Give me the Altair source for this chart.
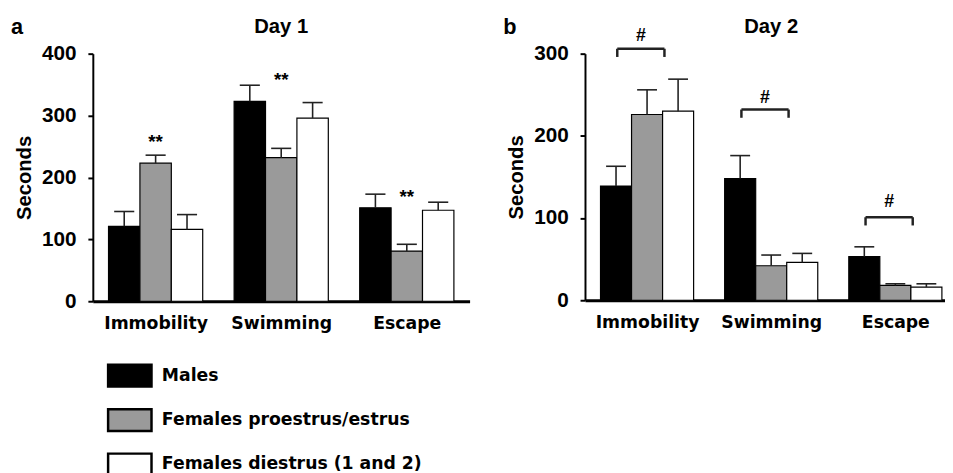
import altair as alt
import pandas as pd

# ---------------- data ----------------
categories = ["Immobility", "Swimming", "Escape"]
groups = ["Males", "Females proestrus/estrus", "Females diestrus (1 and 2)"]
colors = ["#000000", "#9a9a9a", "#ffffff"]

day1_males = [121, 323, 151]
day1_males_sem = [24, 26, 22]
day1_pro = [223, 232, 81]
day1_pro_sem = [13, 15, 11]
day1_di = [116, 296, 147]
day1_di_sem = [24, 25, 13]

day2_males = [139, 148, 53]
day2_males_sem = [24, 28, 12]
day2_pro = [226, 42, 18]
day2_pro_sem = [30, 13, 2]
day2_di = [230, 46, 16]
day2_di_sem = [39, 11, 4]

day1_star_level = [248, 348, 158]      # "**" annotations (Day 1)
day2_hash_level = [315, 240, 114]      # "#" annotations (Day 2)
day2_bracket_level = [306, 232, 101]   # brackets under "#"

FONT = "Liberation Sans"
WIDE = "DejaVu Sans"


def frame(means, sems):
    rows = []
    for gi, (g, m, s) in enumerate(zip(groups, means, sems)):
        for ci, c in enumerate(categories):
            rows.append(dict(category=c, ci=ci, group=g, gi=gi, mean=m[ci], sem=s[ci]))
    return pd.DataFrame(rows)


def panel(df, ymax, yticks, width, height, xmax, letter, title, legend, marks_df, mark_text, kind):
    xscale = alt.Scale(domain=[0, xmax], nice=False, zero=False)
    yscale = alt.Scale(domain=[0, ymax], nice=False)
    xaxis = alt.Axis(values=[0.5, 1.5, 2.5],
                     labelExpr="['Immobility','Swimming','Escape'][floor(datum.value)]",
                     ticks=False, tickSize=0, grid=False, title=None,
                     domainWidth=3, domainColor="black",
                     labelFont=WIDE, labelFontSize=17.5, labelFontWeight="bold",
                     labelColor="black", labelPadding=14, labelFlush=False,
                     labelOverlap=False)
    yaxis = alt.Axis(values=yticks, title="Seconds", grid=False,
                     domainWidth=2, domainColor="black", tickColor="black",
                     tickWidth=2, tickSize=5, labelPadding=12,
                     labelFont=FONT, labelFontSize=21, labelFontWeight="bold",
                     labelColor="black", titleFont=FONT, titleFontSize=20.5,
                     titleFontWeight="bold", titleColor="black", titlePadding=7)

    base = alt.Chart(df).transform_calculate(
        x1="datum.ci + 0.125 + 0.25*datum.gi",
        x2="datum.ci + 0.375 + 0.25*datum.gi",
        xc="datum.ci + 0.25 + 0.25*datum.gi",
        c1="datum.ci + 0.17 + 0.25*datum.gi",
        c2="datum.ci + 0.33 + 0.25*datum.gi",
        top="datum.mean + datum.sem",
    )

    bars = base.mark_rect(stroke="black", strokeWidth=1.2).encode(
        x=alt.X("x1:Q", scale=xscale, axis=xaxis),
        x2="x2:Q",
        y=alt.Y("mean:Q", scale=yscale, axis=yaxis),
        y2=alt.datum(0),
        fill=alt.Fill("group:N", sort=groups,
                      scale=alt.Scale(domain=groups, range=colors),
                      legend=legend),
    )
    whisk = base.mark_rule(color="#222222", strokeWidth=1.6).encode(
        x="xc:Q", y="mean:Q", y2="top:Q")
    cap = base.mark_rule(color="#222222", strokeWidth=1.6).encode(
        x="c1:Q", x2="c2:Q", y="top:Q")

    ann = alt.Chart(marks_df)
    if kind == "star":
        ann_text = ann.transform_calculate(xt="datum.ci + 0.5").mark_text(
            text=mark_text, font=FONT, fontSize=19, fontWeight="bold",
            color="black", baseline="alphabetic").encode(x="xt:Q", y="level:Q")
        extra = [ann_text]
    else:
        ann2 = ann.transform_calculate(
            s="datum.ci + 0.26", e="datum.ci + 0.64", xt="datum.ci + 0.45",
            low="datum.bracket - 10")
        ann_text = ann2.mark_text(
            text=mark_text, font=FONT, fontSize=18, fontWeight="bold",
            color="black", baseline="alphabetic").encode(x="xt:Q", y="level:Q")
        hline = ann2.mark_rule(color="#222222", strokeWidth=2.5).encode(
            x="s:Q", x2="e:Q", y="bracket:Q")
        lv = ann2.mark_rule(color="#222222", strokeWidth=2.5).encode(
            x="s:Q", y="low:Q", y2="bracket:Q")
        rv = ann2.mark_rule(color="#222222", strokeWidth=2.5).encode(
            x="e:Q", y="low:Q", y2="bracket:Q")
        extra = [ann_text, hline, lv, rv]

    lab = alt.Chart(pd.DataFrame({"t": [letter]})).mark_text(
        font=FONT, fontSize=22, fontWeight="bold", color="black",
        align="left", baseline="alphabetic").encode(
        text="t:N", x=alt.value(-83), y=alt.value(-20))
    ttl = alt.Chart(pd.DataFrame({"t": [title]})).mark_text(
        font=FONT, fontSize=20.5, fontWeight="bold", color="black",
        align="center", baseline="alphabetic").encode(
        text="t:N", x=alt.datum(1.5), y=alt.value(-21))

    return alt.layer(bars, whisk, cap, *extra, lab, ttl).properties(
        width=width, height=height)


df1 = frame([day1_males, day1_pro, day1_di], [day1_males_sem, day1_pro_sem, day1_di_sem])
df2 = frame([day2_males, day2_pro, day2_di], [day2_males_sem, day2_pro_sem, day2_di_sem])

stars = pd.DataFrame({"ci": [0, 1, 2], "level": day1_star_level})
hashes = pd.DataFrame({"ci": [0, 1, 2], "level": day2_hash_level,
                       "bracket": day2_bracket_level})

legend = alt.Legend(title=None, orient="none", legendX=25, legendY=314,
                    direction="vertical",
                    symbolType="M-2,-1H2V1H-2Z", symbolSize=484,
                    symbolStrokeColor="black", symbolStrokeWidth=2.5,
                    symbolOpacity=1, labelFont=WIDE, labelFontSize=17.5,
                    labelFontWeight="bold", labelColor="black",
                    labelOffset=20, rowPadding=12, padding=0, labelLimit=500)

pa = panel(df1, 400, [0, 100, 200, 300, 400], 382, 251, 3, "a", "Day 1",
           legend, stars, "**", "star")
pb = panel(df2, 300, [0, 100, 200, 300], 365, 250, 2.9, "b", "Day 2",
           None, hashes, "#", "hash")

chart = alt.hconcat(pa, pb, spacing=117, bounds="flush").resolve_scale(
    fill="independent").resolve_legend(fill="independent").properties(
    padding={"left": 3, "top": 5, "right": 0, "bottom": 0},
    background="white").configure_view(stroke=None)

chart.save("out.html", embed_options={"renderer": "svg", "actions": False})
